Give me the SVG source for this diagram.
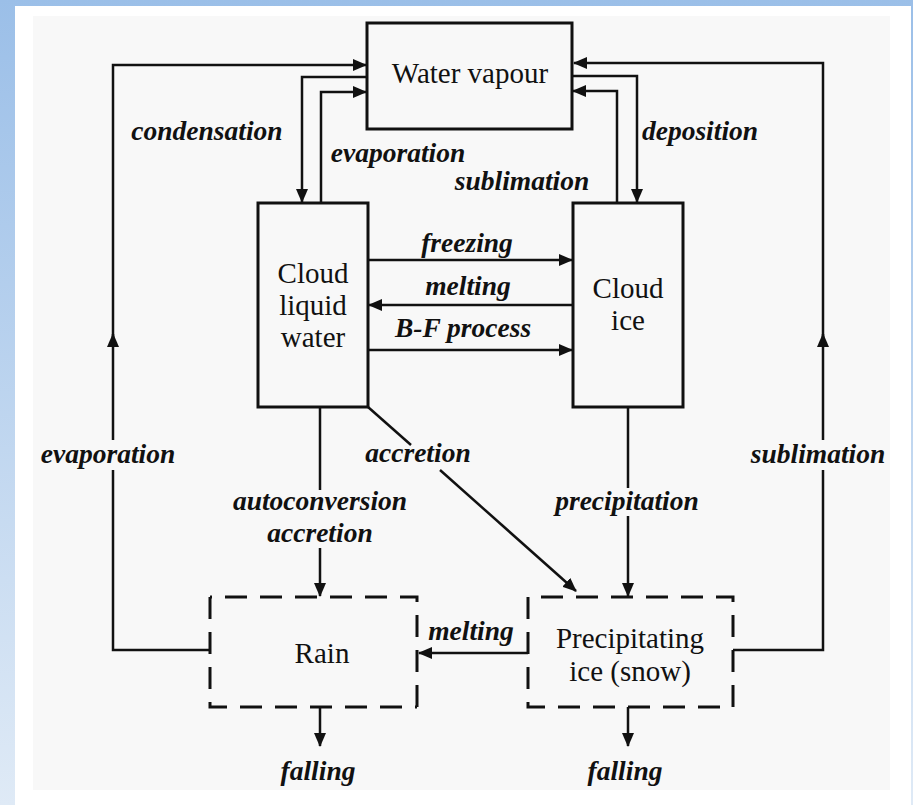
<svg xmlns="http://www.w3.org/2000/svg" width="913" height="805" viewBox="0 0 913 805">
<defs>
<linearGradient id="bl" x1="0" y1="0" x2="0" y2="1">
<stop offset="0" stop-color="#9bbfe8"/>
<stop offset="1" stop-color="#dfeaf6"/>
</linearGradient>
<marker id="ah" markerWidth="14" markerHeight="12" refX="13" refY="6" orient="auto" markerUnits="userSpaceOnUse">
<path d="M0,0 L14,6 L0,12 Z" fill="#111"/>
</marker>
<style>
.box{fill:none;stroke:#111;stroke-width:3}
.dash{fill:none;stroke:#111;stroke-width:3;stroke-dasharray:22 13}
.c{fill:none;stroke:#111;stroke-width:2.5}
.t{font-family:"Liberation Serif",serif;font-size:29px;fill:#111;text-anchor:middle}
.l{font-family:"Liberation Serif",serif;font-size:27.5px;font-style:italic;font-weight:bold;fill:#111;text-anchor:middle}
</style>
</defs>
<rect x="0" y="0" width="913" height="805" fill="url(#bl)"/>
<rect x="15" y="6" width="896" height="799" fill="#ffffff"/>
<rect x="33" y="16" width="857" height="774" fill="#f8f8f8"/>

<g id="connectors">
<path class="c" d="M210,650 H113 V470"/>
<path class="c" d="M113,440 V334" marker-end="url(#ah)"/>
<path class="c" d="M113,345 V65 H366" marker-end="url(#ah)"/>
<path class="c" d="M733,650 H823 V470"/>
<path class="c" d="M823,440 V334" marker-end="url(#ah)"/>
<path class="c" d="M823,345 V63 H574" marker-end="url(#ah)"/>
<path class="c" d="M367,77 H302 V202" marker-end="url(#ah)"/>
<path class="c" d="M321,203 V92 H366" marker-end="url(#ah)"/>
<path class="c" d="M572,76 H637 V202" marker-end="url(#ah)"/>
<path class="c" d="M617,203 V91 H573" marker-end="url(#ah)"/>
<path class="c" d="M368,260 H572" marker-end="url(#ah)"/>
<path class="c" d="M573,305 H369" marker-end="url(#ah)"/>
<path class="c" d="M368,350 H572" marker-end="url(#ah)"/>
<path class="c" d="M320,407 V490"/>
<path class="c" d="M320,548 V596" marker-end="url(#ah)"/>
<path class="c" d="M628,407 V488"/>
<path class="c" d="M628,516 V596" marker-end="url(#ah)"/>
<path class="c" d="M368,407 L411,445"/>
<path class="c" d="M440,470 L576,591" marker-end="url(#ah)"/>
<path class="c" d="M528,653 H419" marker-end="url(#ah)"/>
<path class="c" d="M320,707 V746" marker-end="url(#ah)"/>
<path class="c" d="M628,707 V746" marker-end="url(#ah)"/>
</g>

<g id="water-vapour">
<rect class="box" x="367" y="23" width="205" height="106"/>
<text class="t" x="470" y="83">Water vapour</text>
</g>
<g id="cloud-liquid-water">
<rect class="box" x="258" y="203" width="110" height="204"/>
<text class="t" x="313" y="283">Cloud</text>
<text class="t" x="313" y="315">liquid</text>
<text class="t" x="313" y="347">water</text>
</g>
<g id="cloud-ice">
<rect class="box" x="573" y="203" width="110" height="204"/>
<text class="t" x="628" y="298">Cloud</text>
<text class="t" x="628" y="330">ice</text>
</g>
<g id="rain">
<path class="dash" d="M210,597 V707 H417"/>
<path class="dash" d="M417,707 V597 H210"/>
<text class="t" x="322" y="663">Rain</text>
</g>
<g id="precipitating-ice">
<path class="dash" d="M528,597 V707 H733"/>
<path class="dash" d="M733,707 V597 H528"/>
<text class="t" x="630" y="648">Precipitating</text>
<text class="t" x="630" y="681">ice (snow)</text>
</g>

<g id="labels">
<text class="l" x="207" y="140">condensation</text>
<text class="l" x="398" y="162">evaporation</text>
<text class="l" x="522" y="190">sublimation</text>
<text class="l" x="700" y="140">deposition</text>
<text class="l" x="467" y="252">freezing</text>
<text class="l" x="468" y="295">melting</text>
<text class="l" x="463" y="337">B-F process</text>
<text class="l" x="108" y="463">evaporation</text>
<text class="l" x="818" y="463">sublimation</text>
<text class="l" x="418" y="462">accretion</text>
<text class="l" x="320" y="510">autoconversion</text>
<text class="l" x="320" y="542">accretion</text>
<text class="l" x="627" y="510">precipitation</text>
<text class="l" x="471" y="640">melting</text>
<text class="l" x="318" y="780">falling</text>
<text class="l" x="625" y="780">falling</text>
</g>
</svg>
